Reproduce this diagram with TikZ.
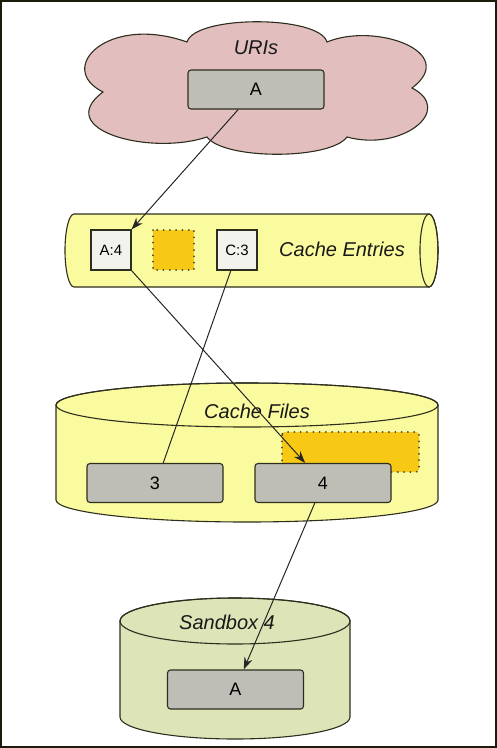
\documentclass[tikz,border=0pt]{standalone}
\usepackage{fontspec}
\setmainfont{Liberation Sans}
\usetikzlibrary{arrows.meta,calc}
\definecolor{edge}{HTML}{2E2E1E}
\definecolor{cloudfill}{HTML}{E2BEBF}
\definecolor{boxgray}{HTML}{BEBDB6}
\definecolor{cyl}{HTML}{FAFA9F}
\definecolor{orng}{HTML}{F7C914}
\definecolor{sandfill}{HTML}{DDE4B7}
\definecolor{entryfill}{HTML}{F3F3EE}
\definecolor{frame}{HTML}{1C1C0C}
\begin{document}
\begin{tikzpicture}[x=1pt,y=-1pt,
  shapeline/.style={draw=edge,line width=1.1pt},
  graybox/.style={shapeline,fill=boxgray,rounded corners=3pt,inner sep=0pt,minimum width=136pt,minimum height=39pt,font=\fontsize{18}{20}\selectfont},
  entrybox/.style={shapeline,fill=entryfill,inner sep=0pt,minimum width=40pt,minimum height=40pt,font=\fontsize{15}{17}\selectfont},
  ghostfill/.style={fill=orng},
  ghostdots/.style={draw=edge!90,line width=2pt,dash pattern=on 0.01pt off 6.3pt,line cap=round},
  title/.style={font=\itshape\fontsize{20}{22}\selectfont,text=black!90},
  conn/.style={draw=black!85,line width=1pt},
  arr/.style={conn,-{Stealth[length=12pt,width=8.5pt]}}
]
\useasboundingbox (0,0) rectangle (497,748);
\draw[frame,line width=1.6pt] (0.8,0.8) rectangle (496.2,747.2);

% cloud
\path[shapeline,fill=cloudfill]
  (103,92) .. controls (55,68) and (108,14) .. (187,42)
  .. controls (195,15) and (319,15) .. (327,42)
  .. controls (375,22) and (460,52) .. (412,88)
  .. controls (455,110) and (402,152) .. (347,137)
  .. controls (330,160) and (224,160) .. (207,137)
  .. controls (150,156) and (52,130) .. (103,92) -- cycle;
\node[title] (urit) at (256,48) {URIs};
\node[graybox] (uriA) at (256,89.5) {A};

% cache entries cylinder
\path[shapeline,fill=cyl] (74,214) -- (429,214)
  arc[start angle=90,end angle=-90,x radius=9pt,y radius=36.5pt]
  -- (74,287)
  arc[start angle=270,end angle=90,x radius=9pt,y radius=36.5pt] -- cycle;
\draw[shapeline] (429,250.5) ellipse [x radius=9pt,y radius=36.5pt];
\node[entrybox] (e1) at (111,250) {A:4};
\path[ghostfill] (153,230) rectangle (194,270);
\path[ghostdots] (153,230) rectangle (194,270);
\node[entrybox] (e3) at (237,250) {C:3};
\node[title] (cet) at (342,249) {Cache Entries};

% cache files cylinder
\path[shapeline,fill=cyl] (56,405) -- (56,500)
  arc[start angle=180,end angle=360,x radius=191pt,y radius=22pt]
  -- (438,405)
  arc[start angle=0,end angle=180,x radius=191pt,y radius=22pt] -- cycle;
\draw[shapeline] (247,405) ellipse [x radius=191pt,y radius=22pt];
\node[title] (cft) at (257,411) {Cache Files};
\path[ghostfill,rounded corners=3pt] (282,432) rectangle (419,472);
\path[ghostdots,rounded corners=3pt] (282,432) rectangle (419,472);
\node[graybox] (f3) at (155,483) {3};
\node[graybox] (f4) at (323,483) {4};

% sandbox cylinder
\path[shapeline,fill=sandfill] (120,621) -- (120,717)
  arc[start angle=180,end angle=360,x radius=115pt,y radius=22pt]
  -- (350,621)
  arc[start angle=0,end angle=180,x radius=115pt,y radius=23pt] -- cycle;
\draw[shapeline] (235,621) ellipse [x radius=115pt,y radius=23pt];
\node[title] (sbt) at (227,622) {Sandbox 4};
\node[graybox] (sA) at (235.5,689.5) {A};

% connectors
\draw[arr] ($(uriA.south west)!0.37!(uriA.south east)$) -- (e1.north east);
\draw[arr] (e1.south east) -- ($(f4.north west)!0.37!(f4.north east)$);
\draw[conn] ($(e3.south west)!0.35!(e3.south east)$) -- ($(f3.north west)!0.56!(f3.north east)$);
\draw[arr] ($(f4.south west)!0.44!(f4.south east)$) -- ($(sA.north west)!0.56!(sA.north east)$);
\end{tikzpicture}
\end{document}
